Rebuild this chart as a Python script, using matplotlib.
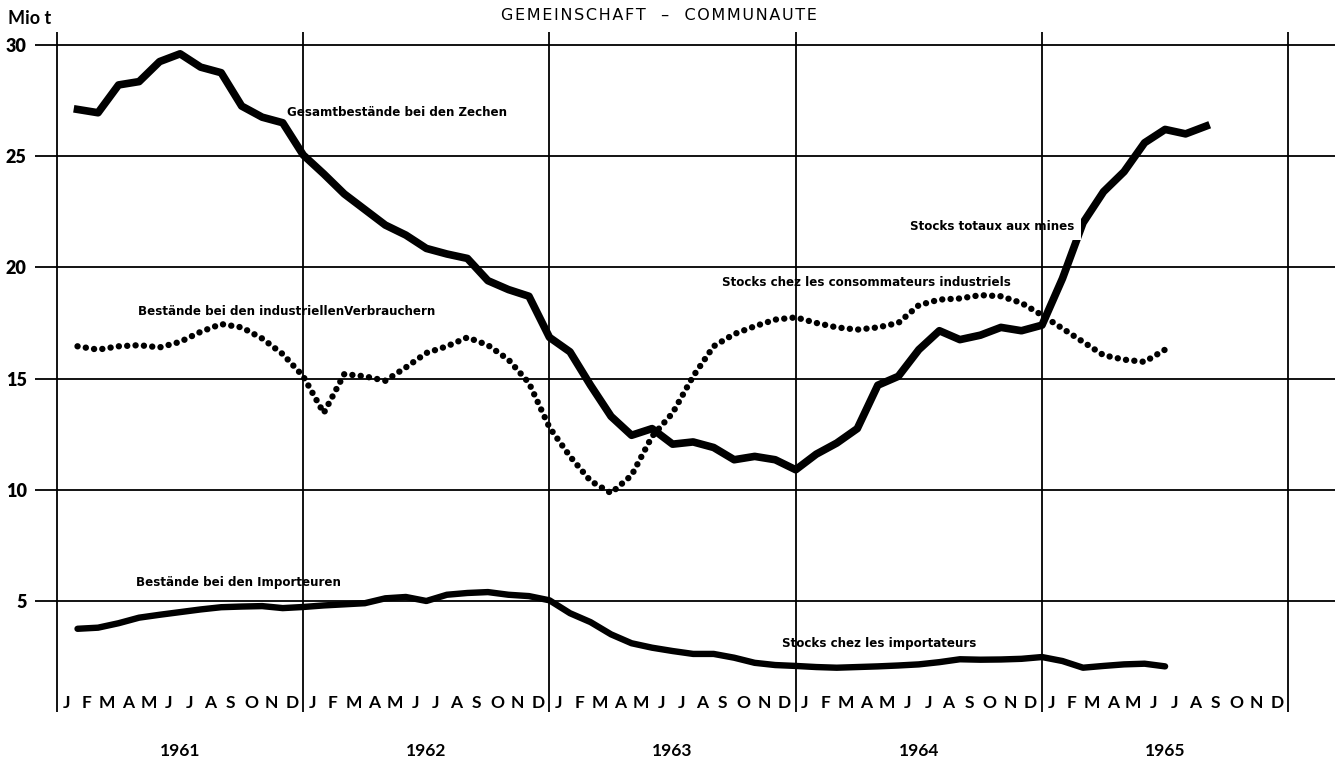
import matplotlib
matplotlib.use('Agg')
import matplotlib.pyplot as plt
import numpy as np

plt.rcParams['font.family'] = ['Lato', 'DejaVu Sans']

# monthly values, Mio t (end of month), starting January 1961
years = [1961, 1962, 1963, 1964, 1965]
month_letters = ['J', 'F', 'M', 'A', 'M', 'J', 'J', 'A', 'S', 'O', 'N', 'D']

# total stocks at the mines (Jan 1961 - Aug 1965)
mines = [27.1, 26.95, 28.2, 28.35, 29.25, 29.6, 29.0, 28.75, 27.25, 26.75, 26.5, 25.05,
         24.2, 23.3, 22.6, 21.9, 21.45, 20.85, 20.6, 20.4, 19.4, 19.0, 18.7, 16.85,
         16.2, 14.7, 13.3, 12.45, 12.75, 12.05, 12.15, 11.9, 11.35, 11.5, 11.35, 10.9,
         11.6, 12.1, 12.75, 14.7, 15.1, 16.3, 17.15, 16.75, 16.95, 17.3, 17.15, 17.4,
         19.5, 22.0, 23.4, 24.3, 25.6, 26.2, 26.0, 26.35]

# stocks at industrial consumers (Jan 1961 - Jun 1965)
consumers = [16.45, 16.3, 16.45, 16.5, 16.4, 16.65, 17.1, 17.45, 17.3, 16.8, 16.1, 15.1,
             13.45, 15.2, 15.1, 14.9, 15.5, 16.15, 16.45, 16.85, 16.5, 15.85, 14.8, 12.8,
             11.5, 10.4, 9.85, 10.65, 12.4, 13.45, 15.1, 16.45, 17.0, 17.35, 17.65, 17.75,
             17.5, 17.3, 17.2, 17.3, 17.5, 18.3, 18.55, 18.6, 18.75, 18.7, 18.4, 17.85,
             17.25, 16.65, 16.05, 15.85, 15.75, 16.3]

# stocks at importers (Jan 1961 - Jun 1965)
importers = [3.75, 3.8, 4.0, 4.25, 4.38, 4.5, 4.62, 4.72, 4.75, 4.77, 4.68, 4.73,
             4.8, 4.85, 4.9, 5.12, 5.18, 5.0, 5.28, 5.36, 5.4, 5.28, 5.22, 5.03,
             4.45, 4.05, 3.5, 3.1, 2.9, 2.75, 2.62, 2.62, 2.45, 2.22, 2.12, 2.08,
             2.03, 2.0, 2.03, 2.06, 2.1, 2.15, 2.25, 2.38, 2.36, 2.37, 2.4, 2.48,
             2.3, 2.0, 2.08, 2.15, 2.18, 2.06]

y_ticks = [5, 10, 15, 20, 25, 30]

W, H = 1335, 763
fig = plt.figure(figsize=(W / 100, H / 100), dpi=100)
ax = fig.add_axes([35 / W, 1 - 712.2 / H, 1 - 35 / W, (712.2 - 32) / H])
ax.set_xlim(-1.072, 62.28)
ax.set_ylim(0, 30.58)
for s in ax.spines.values():
    s.set_visible(False)
ax.set_xticks([])
ax.set_yticks(y_ticks)
ax.set_yticklabels([str(v) for v in y_ticks])
ax.tick_params(axis='y', length=0, pad=6)
for lbl in ax.get_yticklabels():
    lbl.set_fontsize(13)
    lbl.set_fontweight('heavy')

# grid
for v in y_ticks:
    ax.axhline(v, color='black', lw=1.3, zorder=4)
for k in range(len(years) + 1):
    ax.axvline(12 * k, color='black', lw=1.3, zorder=4)

# series: values are placed at month ends
x_m = np.arange(1, len(mines) + 1)
x_c = np.arange(1, len(consumers) + 1)
x_i = np.arange(1, len(importers) + 1)
ax.plot(x_m, mines, color='black', lw=5.5, solid_joinstyle='round', zorder=2)
ax.plot(x_c, consumers, color='black', lw=4.6, linestyle=(0, (0.01, 1.3)),
        dash_capstyle='round', zorder=2)
ax.plot(x_i, importers, color='black', lw=4.6, solid_joinstyle='round',
        solid_capstyle='round', zorder=2)

# month letters and years
for k in range(12 * len(years)):
    ax.text(k + 0.45, 0.05, month_letters[k % 12], ha='center', va='bottom',
            fontsize=12.5, fontweight='bold')
for k, yr in enumerate(years):
    ax.text(12 * k + 6, -1.75, str(yr), ha='center', va='center', fontsize=12.5,
            fontweight='bold', clip_on=False)

# series labels
lab = dict(fontsize=8.6, fontweight='bold', family='DejaVu Sans', ha='left',
           va='center', zorder=3)
ax.text(11.21, 26.98, 'Gesamtbestände bei den Zechen', **lab)
ax.text(41.57, 21.82, 'Stocks totaux aux mines',
        bbox=dict(facecolor='white', edgecolor='none', pad=5), **lab)
ax.text(32.41, 19.34, 'Stocks chez les consommateurs industriels', **lab)
ax.text(3.95, 18.0, 'Bestände bei den industriellenVerbrauchern', **lab)
ax.text(3.85, 5.85, 'Bestände bei den Importeuren', **lab)
ax.text(35.33, 3.11, 'Stocks chez les importateurs', **lab)

fig.text(8 / W, 1 - 18 / H, 'Mio t', ha='left', va='center', fontsize=13, fontweight='bold')
title = '\u200a'.join('GEMEINSCHAFT') + '   –   ' + '\u200a'.join('COMMUNAUTE')
fig.text(659 / W, 1 - 15 / H, title, ha='center', va='center',
         fontsize=11.5, family='DejaVu Sans')

fig.savefig('out.png', dpi=100)
